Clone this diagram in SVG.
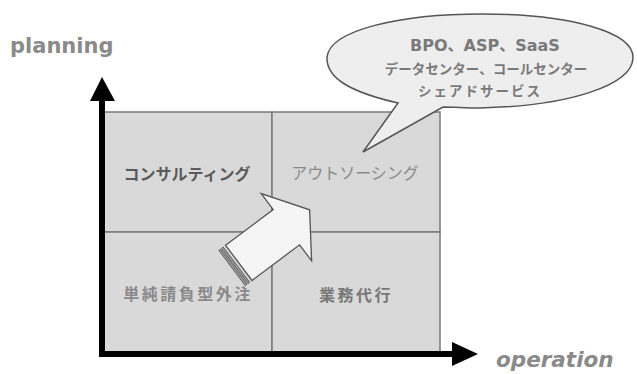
<svg xmlns="http://www.w3.org/2000/svg" width="637" height="374" viewBox="0 0 637 374">
<style>
.q{fill:#d9d9d9;stroke:#7a7a7a;stroke-width:1.5}
.ql{font-family:"Noto Sans CJK JP",sans-serif;font-weight:bold;font-size:16px;fill:#6e6e6e;text-anchor:middle;dominant-baseline:central}
.ax{font-family:"DejaVu Sans",sans-serif;font-weight:bold;fill:#8a8a8a}
.bt{font-family:"DejaVu Sans","Noto Sans CJK JP",sans-serif;font-weight:bold;fill:#7a7a7a;text-anchor:middle;dominant-baseline:central}
</style>
<rect width="637" height="374" fill="#fff"/>
<g id="q-consulting">
<rect class="q" x="104" y="112" width="168" height="120"/>
<text class="ql" x="187" y="173" style="fill:#5a5a5a">コンサルティング</text>
</g>
<g id="q-outsourcing">
<rect class="q" x="272" y="112" width="168" height="120"/>
<text class="ql" x="355" y="172" style="fill:#8a8a8a;font-weight:normal">アウトソーシング</text>
</g>
<g id="q-subcontract">
<rect class="q" x="104" y="232" width="168" height="120"/>
<text class="ql" x="188" y="293" style="fill:#8a8a8a;letter-spacing:2.5px">単純請負型外注</text>
</g>
<g id="q-agency">
<rect class="q" x="272" y="232" width="168" height="120"/>
<text class="ql" x="356" y="294" style="fill:#777;letter-spacing:2.5px">業務代行</text>
</g>
<g id="connectors">
<path d="M102,356 V99" stroke="#000" stroke-width="6" fill="none"/>
<polygon points="90,101 102,77 115,101" fill="#000"/>
<path d="M99,354 H454" stroke="#000" stroke-width="6" fill="none"/>
<polygon points="452,342 478,354 452,366" fill="#000"/>
</g>
<g id="big-arrow" transform="translate(232,268) rotate(-36.87)">
<rect x="0" y="-22" width="2.2" height="44" fill="#9a9a9a" stroke="#555" stroke-width="0.8"/>
<rect x="3.4" y="-22" width="2.2" height="44" fill="#9a9a9a" stroke="#555" stroke-width="0.8"/>
<polygon points="8.5,-22 68,-22 68,-42 97,0 68,42 68,22 8.5,22" fill="#f5f5f5" stroke="#555" stroke-width="1.3" stroke-linejoin="miter"/>
</g>
<g id="bubble">
<path d="M398,103 C350,92 326,78 327,57 C330,30 400,14 482,14 C570,14 634,32 633,58 C632,85 570,106 480,108 C466,108 454,107 443,107 L363,152 Z" fill="#eeeeee" stroke="#555" stroke-width="1.5" stroke-linejoin="miter"/>
<text class="bt" x="485" y="45" font-size="16">BPO、ASP、SaaS</text>
<text class="bt" x="486" y="68" font-size="13.5" style="font-family:'Noto Sans CJK JP',sans-serif">データセンター、コールセンター</text>
<text class="bt" x="480" y="90" font-size="13.5" style="font-family:'Noto Sans CJK JP',sans-serif;letter-spacing:2px">シェアドサービス</text>
</g>
<text class="ax" x="10" y="53" font-size="21">planning</text>
<text class="ax" x="496" y="367" font-size="21.5" font-style="italic">operation</text>
</svg>
